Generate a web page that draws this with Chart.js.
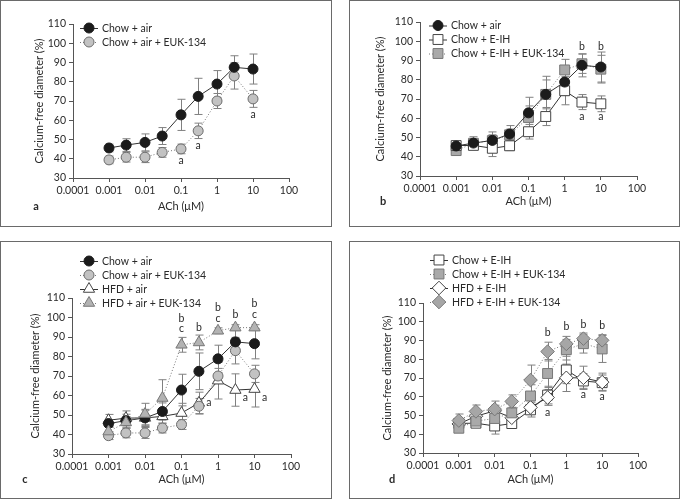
<!DOCTYPE html>
<html><head><meta charset="utf-8">
<script src="https://cdn.jsdelivr.net/npm/chart.js@4.4.1/dist/chart.umd.min.js"></script>
<style>
html,body{margin:0;padding:0;background:#fff;}
body{width:681px;height:499px;position:relative;overflow:hidden;}
.box{position:absolute;box-sizing:border-box;border:1.5px solid #6a6a6a;}
canvas{position:absolute;}
</style></head><body>
<div class="box" style="left:0;top:0;width:332px;height:227px"></div>
<div class="box" style="left:349px;top:0;width:331px;height:227px"></div>
<div class="box" style="left:0;top:241px;width:332px;height:258px"></div>
<div class="box" style="left:349px;top:241px;width:331px;height:258px"></div>
<canvas id="ca" width="332" height="227" style="left:0;top:0"></canvas>
<canvas id="cb" width="331" height="227" style="left:349px;top:0"></canvas>
<canvas id="cc" width="332" height="258" style="left:0;top:241px"></canvas>
<canvas id="cd" width="331" height="258" style="left:349px;top:241px"></canvas>
<script>
// ---------- data ----------
const doses = [0.001, 0.003, 0.01, 0.03, 0.1, 0.3, 1, 3, 10];
const xTickValues = [0.0001, 0.001, 0.01, 0.1, 1, 10, 100];
const xTickLabels = ['0.0001', '0.001', '0.01', '0.1', '1', '10', '100'];
const yTickMin = 30, yTickMax = 110, yTickStep = 10;
const xTitle = 'ACh (μM)';
const yTitle = 'Calcium-free diameter (%)';

const chowAir       = [45.6, 47.1, 48.5, 51.8, 62.8, 72.4, 78.8, 87.5, 86.6];
const chowAirErr    = [2.0, 3.3, 4.4, 4.4, 8.1, 9.4, 7.0, 6.0, 7.8];
const chowAirEuk    = [39.4, 40.8, 40.8, 43.3, 45.1, 54.5, 70.0, 83.0, 71.1];
const chowAirEukErr = [2.0, 2.5, 2.8, 2.5, 2.5, 4.0, 3.9, 6.8, 4.4];
const chowEih       = [45.8, 45.9, 44.4, 45.7, 53.0, 60.9, 74.3, 68.4, 67.5];
const chowEihErr    = [1.6, 2.0, 4.3, 2.5, 3.8, 4.7, 7.3, 3.9, 4.1];
const chowEihEuk    = [43.2, 47.0, 48.4, 51.4, 60.4, 72.4, 85.1, 88.3, 85.5];
const chowEihEukErr = [2.2, 2.5, 3.0, 3.0, 6.0, 7.5, 5.5, 5.0, 7.2];
const hfdAir        = [47.3, 48.4, 48.5, 49.3, 51.0, 56.2, 67.6, 62.8, 63.3];
const hfdAirErr     = [3.0, 3.7, 4.0, 3.5, 5.0, 5.5, 9.4, 8.3, 9.2];
const hfdAirEuk     = [41.5, 46.2, 50.5, 58.7, 86.0, 87.2, 93.2, 94.8, 94.8];
const hfdAirEukErr  = [2.8, 3.0, 5.5, 9.4, 3.8, 3.8, 1.5, 1.5, 1.5];
const hfdEih        = [45.5, 49.6, 52.5, 48.8, 54.3, 59.6, 70.1, 70.1, 67.8];
const hfdEihErr     = [2.0, 2.5, 3.0, 3.0, 3.5, 4.2, 7.3, 6.2, 4.8];
const hfdEihEuk     = [47.3, 52.2, 53.4, 57.5, 68.9, 84.1, 88.2, 91.0, 90.1];
const hfdEihEukErr  = [3.5, 3.4, 4.3, 3.5, 8.0, 5.0, 4.0, 3.0, 3.0];

// significance letters: [dose, y value, letter, side]
const annotA = [[0.1, 39, 'a', 'c'], [0.3, 47, 'a', 'c'], [10, 63, 'a', 'c']];
const annotB = [[3, 97, 'b', 'c'], [10, 97, 'b', 'c'], [3, 61, 'a', 'c'], [10, 61, 'a', 'c']];
const annotC = [[0.1, 99.5, 'b', 'c'], [0.1, 94.2, 'c', 'c'], [0.3, 95, 'b', 'c'],
                [1, 105, 'b', 'c'], [1, 99.6, 'c', 'c'], [3, 101.5, 'b', 'c'],
                [10, 107, 'b', 'c'], [10, 101.6, 'c', 'c'],
                [0.3, 56.4, 'a', 'r'], [3, 58.7, 'a', 'r'], [10, 58.7, 'a', 'r']];
const annotD = [[0.3, 94, 'b', 'c'], [1, 97.6, 'b', 'c'], [3, 98.3, 'b', 'c'], [10, 98, 'b', 'c'],
                [0.3, 51.3, 'a', 'c'], [3, 61.3, 'a', 'c'], [10, 60, 'a', 'c']];

// ---------- styles ----------
const FONT = 'Lato, "Liberation Sans", sans-serif';
const TXT = '#2a2a2a';
const AXC = '#555';
const SER = {
  chowAir:    {label:'Chow + air', y:chowAir, err:chowAirErr, shape:'circle', r:5, fill:'#1b1b1b', stroke:'#1b1b1b', dotted:false},
  chowAirEuk: {label:'Chow + air + EUK-134', y:chowAirEuk, err:chowAirEukErr, shape:'circle', r:5, fill:'#c2c2c2', stroke:'#6c6c6c', dotted:true},
  chowEih:    {label:'Chow + E-IH', y:chowEih, err:chowEihErr, shape:'rect', r:7, fill:'#ffffff', stroke:'#444', dotted:false},
  chowEihEuk: {label:'Chow + E-IH + EUK-134', y:chowEihEuk, err:chowEihEukErr, shape:'rect', r:7, fill:'#a9a9a9', stroke:'#777', dotted:true},
  hfdAir:     {label:'HFD + air', y:hfdAir, err:hfdAirErr, shape:'triangle', r:6.5, fill:'#ffffff', stroke:'#444', dotted:false},
  hfdAirEuk:  {label:'HFD + air + EUK-134', y:hfdAirEuk, err:hfdAirEukErr, shape:'triangle', r:6.5, fill:'#b3b3b3', stroke:'#777', dotted:true},
  hfdEih:     {label:'HFD + E-IH', y:hfdEih, err:hfdEihErr, shape:'rectRot', r:6.8, fill:'#ffffff', stroke:'#444', dotted:false},
  hfdEihEuk:  {label:'HFD + E-IH + EUK-134', y:hfdEihEuk, err:hfdEihEukErr, shape:'rectRot', r:6.8, fill:'#a6a6a6', stroke:'#777', dotted:true}
};

function makeDataset(key){
  const s = SER[key];
  return {
    label: s.label,
    data: doses.map((x, i) => ({x: x, y: s.y[i]})),
    errors: s.err,
    borderColor: s.dotted ? '#777' : '#333',
    borderWidth: 1,
    borderDash: s.dotted ? [1, 2] : [],
    pointStyle: s.shape, pointRadius: s.r, pointHoverRadius: s.r,
    pointBackgroundColor: s.fill, pointBorderColor: s.stroke, pointBorderWidth: 1,
    showLine: true, tension: 0, fill: false, clip: false
  };
}

function drawMarker(ctx, s, x, y){
  ctx.save();
  ctx.fillStyle = s.fill; ctx.strokeStyle = s.stroke; ctx.lineWidth = 1;
  if (Chart.helpers && Chart.helpers.drawPoint) {
    Chart.helpers.drawPoint(ctx, {pointStyle: s.shape, radius: s.r, borderWidth: 1, rotation: 0}, x, y);
  } else {
    ctx.beginPath(); ctx.arc(x, y, s.r, 0, Math.PI * 2); ctx.fill(); ctx.stroke();
  }
  ctx.restore();
}

const decor = {
  id: 'decor',
  beforeDatasetsDraw(chart){
    const ctx = chart.ctx, xs = chart.scales.x, ys = chart.scales.y;
    ctx.save();
    ctx.strokeStyle = '#808080'; ctx.lineWidth = 1;
    chart.data.datasets.forEach(d => {
      d.data.forEach((p, i) => {
        const e = d.errors[i];
        const px = Math.round(xs.getPixelForValue(p.x)) + 0.5;
        const t = ys.getPixelForValue(p.y + e), b = ys.getPixelForValue(p.y - e);
        ctx.beginPath();
        ctx.moveTo(px, t); ctx.lineTo(px, b);
        ctx.moveTo(px - 4, t); ctx.lineTo(px + 4, t);
        ctx.moveTo(px - 4, b); ctx.lineTo(px + 4, b);
        ctx.stroke();
      });
    });
    ctx.restore();
  },
  afterDraw(chart){
    const o = chart.options.plugins.decor;
    const ctx = chart.ctx, xs = chart.scales.x, ys = chart.scales.y, a = chart.chartArea;
    ctx.save();
    ctx.fillStyle = TXT;
    ctx.font = '10.5px ' + FONT;
    ctx.textBaseline = 'middle';
    // significance letters
    o.annot.forEach(([dx, dy, t, side]) => {
      const px = xs.getPixelForValue(dx), py = ys.getPixelForValue(dy);
      ctx.textAlign = 'center';
      ctx.fillText(t, side === 'r' ? px + 10 : px, py);
    });
    // legend
    o.legend.keys.forEach((k, i) => {
      const s = SER[k];
      const lx = o.legend.x, ly = o.legend.y + i * o.legend.dy;
      ctx.save();
      ctx.strokeStyle = s.dotted ? '#777' : '#333'; ctx.lineWidth = 1;
      ctx.setLineDash(s.dotted ? [1, 2] : []);
      ctx.beginPath(); ctx.moveTo(lx - 9, ly + 0.5); ctx.lineTo(lx + 9, ly + 0.5); ctx.stroke();
      ctx.restore();
      drawMarker(ctx, s, lx, ly);
      ctx.fillStyle = TXT; ctx.textAlign = 'left';
      ctx.fillText(s.label, lx + 13, ly + 0.5);
    });
    // axis titles
    ctx.font = '11px ' + FONT;
    ctx.textAlign = 'center';
    ctx.fillText(xTitle, (a.left + a.right) / 2, o.xTitleY);
    ctx.save();
    ctx.translate(o.yTitleX, (a.top + a.bottom) / 2);
    ctx.rotate(-Math.PI / 2);
    ctx.fillText(yTitle, 0, 0);
    ctx.restore();
    // panel letter
    ctx.font = 'bold 11px ' + FONT;
    ctx.fillText(o.letter, o.letterX, o.xTitleY);
    ctx.restore();
  }
};

function makePanel(id, keys, area, annot, legend, yTitleX, xTitleY, letter, letterX){
  const cv = document.getElementById(id);
  const W = cv.width, H = cv.height;
  new Chart(cv, {
    type: 'line',
    data: {datasets: keys.map(makeDataset)},
    options: {
      responsive: false, animation: false, devicePixelRatio: 1,
      layout: {padding: {left: 0, top: area.t, right: W - area.r, bottom: 0}},
      plugins: {
        legend: {display: false}, tooltip: {enabled: false},
        decor: {annot, legend, yTitleX, xTitleY, letter, letterX}
      },
      scales: {
        x: {
          type: 'logarithmic', min: xTickValues[0], max: xTickValues[xTickValues.length - 1],
          afterBuildTicks: s => { s.ticks = xTickValues.map(v => ({value: v})); },
          afterFit: s => { s.height = H - area.b; },
          ticks: {
            autoSkip: false, maxRotation: 0, minRotation: 0, padding: 2,
            color: TXT, font: {family: FONT, size: 10.5},
            callback: (v, i) => xTickLabels[i]
          },
          grid: {drawOnChartArea: false, drawTicks: true, tickLength: 4, color: AXC, lineWidth: 1},
          border: {display: true, color: AXC, width: 1}
        },
        y: {
          type: 'linear', min: yTickMin, max: yTickMax,
          afterFit: s => { s.width = area.l; },
          ticks: {stepSize: yTickStep, padding: 3, color: TXT, font: {family: FONT, size: 10.5}},
          grid: {drawOnChartArea: false, drawTicks: true, tickLength: 4, color: AXC, lineWidth: 1},
          border: {display: true, color: AXC, width: 1}
        }
      }
    },
    plugins: [decor]
  });
}

makePanel('ca', ['chowAir', 'chowAirEuk'], {l:73, r:289, t:24, b:178}, annotA,
  {keys:['chowAir', 'chowAirEuk'], x:89, y:28, dy:14}, 39, 206, 'a', 36);
makePanel('cb', ['chowAir', 'chowEih', 'chowEihEuk'], {l:71, r:288, t:22, b:176}, annotB,
  {keys:['chowAir', 'chowEih', 'chowEihEuk'], x:89, y:25.5, dy:14}, 31, 201, 'b', 34);
makePanel('cc', ['hfdAirEuk', 'chowAir', 'chowAirEuk', 'hfdAir'], {l:72, r:291, t:57, b:213}, annotC,
  {keys:['chowAir', 'chowAirEuk', 'hfdAir', 'hfdAirEuk'], x:89, y:20, dy:14}, 35, 238, 'c', 25);
makePanel('cd', ['hfdEihEuk', 'chowEihEuk', 'hfdEih', 'chowEih'], {l:74, r:289, t:62, b:212}, annotD,
  {keys:['chowEih', 'chowEihEuk', 'hfdEih', 'hfdEihEuk'], x:90, y:19, dy:14}, 38, 238, 'd', 43);
</script>
</body></html>
